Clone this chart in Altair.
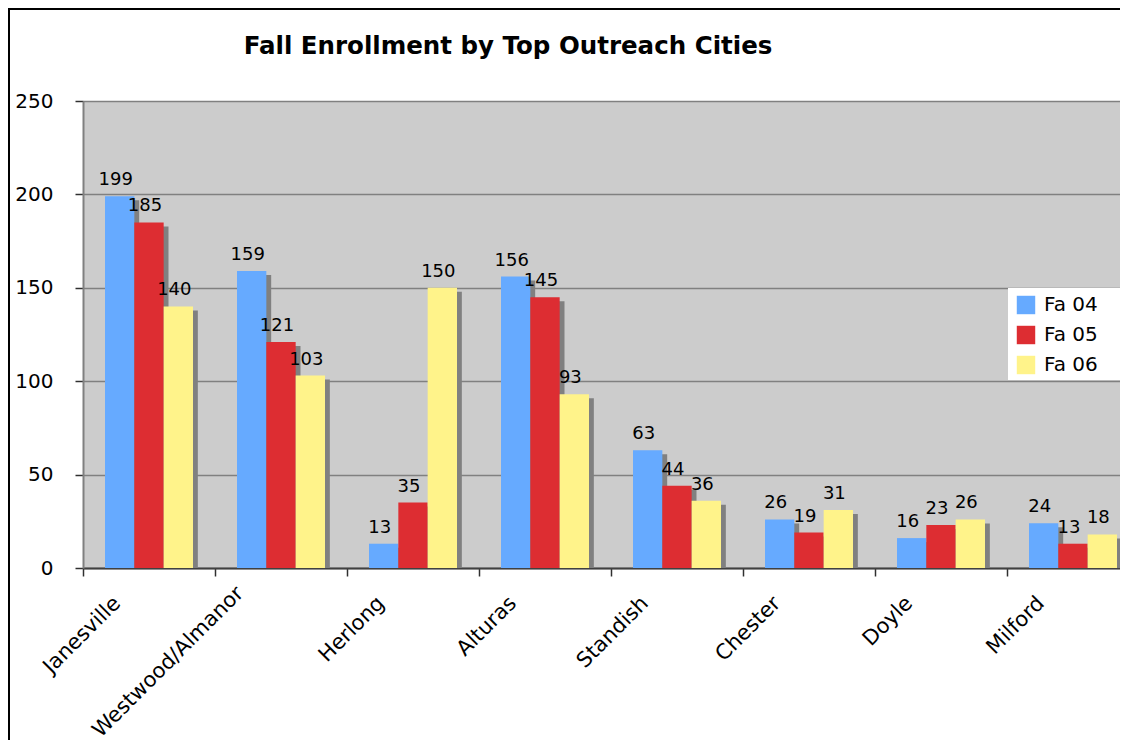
import altair as alt
import pandas as pd

cities = ["Janesville", "Westwood/Almanor", "Herlong", "Alturas",
          "Standish", "Chester", "Doyle", "Milford"]
series = ["Fa 04", "Fa 05", "Fa 06"]
fa04 = [199, 159, 13, 156, 63, 26, 16, 24]
fa05 = [185, 121, 35, 145, 44, 19, 23, 13]
fa06 = [140, 103, 150, 93, 36, 31, 26, 18]
colors = ["#66AAFF", "#DD2D32", "#FFF38A"]
y_ticks = [0, 50, 100, 150, 200, 250]

rows = []
for i, c in enumerate(cities):
    for s, vals in zip(series, [fa04, fa05, fa06]):
        rows.append({"city": c, "series": s, "value": vals[i]})
df = pd.DataFrame(rows)

FONT = "DejaVu Sans"
W = 1037
H = 467
LONG = "datum.value == 'Westwood/Almanor'"

x = alt.X(
    "city:N", sort=cities,
    scale=alt.Scale(type="band", range=[0, 1056], paddingInner=0,
                    paddingOuter=0),
    axis=alt.Axis(
        title=None, labelAngle=315, labelAlign="right", labelBaseline="top",
        labelOffset={"condition": {"test": LONG, "value": -49}, "value": -40},
        labelPadding={"condition": {"test": LONG, "value": 6}, "value": 16},
        labelFont=FONT, labelFontSize=21,
        labelColor="black", labelLimit=400, tickBand="extent", tickSize=8,
        tickColor="#303030", tickWidth=1.5, domainColor="#404040",
        domainWidth=2, grid=False,
    ),
)
xo_main = alt.XOffset("series:N", sort=series,
                      scale=alt.Scale(type="band", paddingInner=0,
                                      paddingOuter=0.75))
xo_shadow = alt.XOffset("series:N", sort=series,
                        scale=alt.Scale(type="band", paddingInner=0,
                                        paddingOuter=0.75, align=0.61))
y = alt.Y(
    "value:Q",
    scale=alt.Scale(domain=[0, 250], nice=False),
    axis=alt.Axis(
        title=None, values=y_ticks, labelFont=FONT, labelFontSize=20,
        labelColor="black", labelPadding=22, tickSize=8, tickColor="#303030",
        tickWidth=1.5, domainColor="#808080", domainWidth=2,
        gridColor="#808080", gridWidth=1.5,
    ),
)

base = alt.Chart(df)

shadow = base.mark_bar(color="#808080", yOffset=4, clip=True).encode(
    x=x, xOffset=xo_shadow, y=y
)

bars = base.mark_bar().encode(
    x=x, xOffset=xo_main, y=y,
    color=alt.Color(
        "series:N", sort=series,
        scale=alt.Scale(domain=series, range=colors),
        legend=alt.Legend(
            title=None, orient="none", legendX=925, legendY=186,
            padding=8, symbolType="square",
            symbolSize=340, symbolStrokeWidth=0, symbolOpacity=1,
            labelFont=FONT, labelFontSize=20, labelColor="black",
            rowPadding=10, labelOffset=8,
        ),
    ),
)

labels = base.mark_text(
    baseline="bottom", dy=-7, dx=-4, font=FONT, fontSize=18, color="black"
).encode(x=x, xOffset=xo_main, y=y, text="value:Q")

one = alt.Data(values=[{"a": 1}])

# white box behind the legend entries
legend_box = alt.Chart(one).mark_rect(color="white").encode(
    x=alt.value(925), x2=alt.value(1042), y=alt.value(187), y2=alt.value(279)
)

# outer chart frame (left and top edges; right/bottom are outside the picture)
frame_left = alt.Chart(one).mark_rule(color="black", strokeWidth=2).encode(
    x=alt.value(-74), y=alt.value(-93), y2=alt.value(H + 300)
)
frame_top = alt.Chart(one).mark_rule(color="black", strokeWidth=2).encode(
    y=alt.value(-92), x=alt.value(-75), x2=alt.value(W)
)

chart = alt.layer(
    frame_left, frame_top, legend_box, shadow, bars, labels
).resolve_scale(
    xOffset="independent"
).properties(
    width=W,
    height=H,
    title=alt.TitleParams(
        "Fall Enrollment by Top Outreach Cities", font=FONT, fontSize=24.5,
        fontWeight="bold", color="black", anchor="middle", frame="group",
        baseline="alphabetic", dx=-(W / 2 - 425), dy=71, offset=0,
    ),
    autosize=alt.AutoSizeParams(type="none"),
    padding={"left": 75, "top": 93, "right": 0, "bottom": 172},
).configure_view(fill="#CCCCCC", stroke="transparent")

chart.save("out.html", embed_options={"renderer": "svg", "actions": False})
